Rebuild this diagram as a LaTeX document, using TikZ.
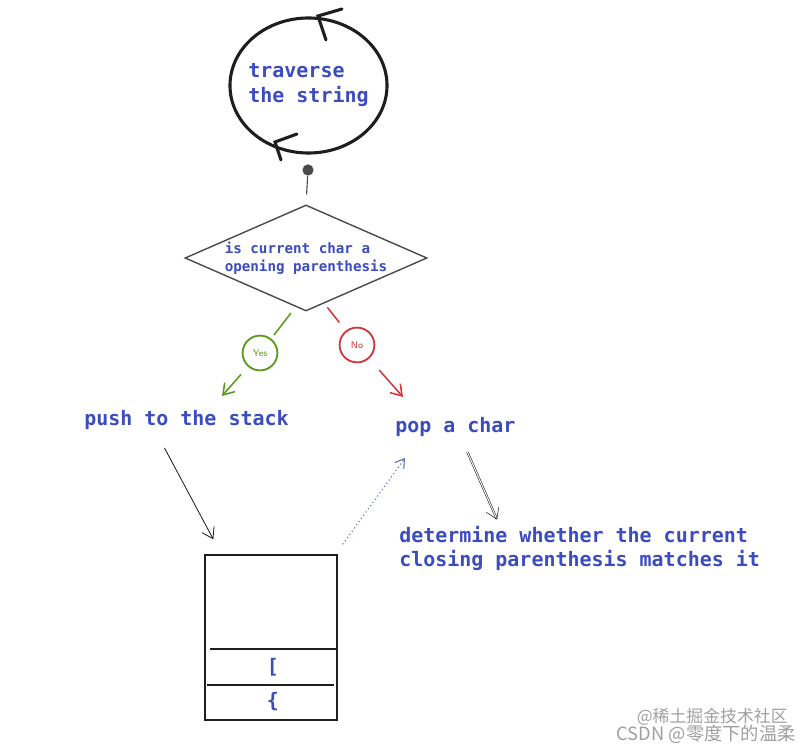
\documentclass[tikz,border=0pt]{standalone}
\usepackage{fontspec}
\setmonofont{DejaVu Sans Mono}
\newfontfamily\cjkfont{Noto Sans CJK SC}
\usetikzlibrary{positioning,arrows.meta,shapes.geometric,calc}
\definecolor{tinta}{HTML}{3A4CBE}
\definecolor{trazo}{HTML}{1E1E1E}
\definecolor{gris}{HTML}{4A4A4A}
\definecolor{verde}{HTML}{5B9A1C}
\definecolor{rojo}{HTML}{D0383A}
\newcommand\grande{\fontsize{14.2}{17.7}\selectfont}
\newcommand\chico{\fontsize{10.1}{12.8}\selectfont}
\tikzset{
  texto/.style={font=\ttfamily\bfseries\grande,text=tinta,align=left,inner sep=0pt},
  bucle/.style={ellipse,draw=trazo,line width=2.2pt,minimum width=3.925cm,minimum height=3.375cm,
    inner xsep=-3.6pt,inner ysep=0pt,font=\ttfamily\bfseries\grande,text=tinta,align=left},
  rombo/.style={diamond,draw=gris,line width=1pt,aspect=2.28,minimum width=6.05cm,minimum height=2.65cm,
    inner sep=0pt,font=\ttfamily\bfseries\chico,text=tinta,align=left},
  marca/.style={circle,draw=#1,line width=1.3pt,minimum size=0.87cm,inner sep=0pt,
    text=#1,font=\sffamily\fontsize{6.8}{7}\selectfont},
  punto/.style={circle,fill=gris,inner sep=0pt,minimum size=0.28cm},
  pila/.style={draw=trazo,line width=0.9pt,minimum width=3.3cm,minimum height=4.125cm,inner sep=0pt},
  flecha/.style={-{Straight Barb[length=2.6mm,width=3.4mm]},semithick,color=trazo},
  flechap/.style={-{Straight Barb[length=2.2mm,width=2.8mm]},dotted,thick,color=tinta!80},
  marcaagua/.style={font=\cjkfont\fontsize{12}{14}\selectfont,text=gray!75,inner sep=0pt},
}
\begin{document}
\begin{tikzpicture}[x=0.025cm,y=-0.025cm]
  \useasboundingbox (0,0) rectangle (810,747);
  % loop
  \node[bucle] (loop) at (308.5,85.5) {traverse\\the string};
  \draw[trazo,line width=2.2pt,line cap=round] (342,9) -- (318,16) -- (326,40);
  \draw[trazo,line width=2.2pt,line cap=round] (297,134) -- (275,142) -- (281,160);
  \node[punto] (dot) at (308,170) {};
  % decision
  \node[rombo] (cond) at (306,258) {is current char a\\opening parenthesis};
  \draw[gris,thick,shorten >=0.25cm] (dot) -- (cond.north);
  \node[marca=verde] (yes) at (260,353) {Yes};
  \node[marca=rojo] (no) at (357,345) {No};
  % actions
  \node[texto,anchor=west] (push) at (84,420) {push to the stack};
  \node[texto,anchor=west] (pop) at (395,427) {pop a char};
  \node[texto,anchor=west] (match) at (399,548.5) {determine whether the current\\closing parenthesis matches it};
  % stack
  \node[pila] (stack) at (271,637.5) {};
  \draw[trazo,line width=0.9pt] (210,649) -- (337,649);
  \draw[trazo,line width=0.9pt] (207,685) -- (334,685);
  \node[texto] (sq) at (273,667) {[};
  \node[texto] (cu) at (273,702) {\{};
  % connectors
  \coordinate (yestip) at (222,396);
  \coordinate (notip) at (403,397);
  \draw[verde,line width=1.1pt,shorten <=0.19cm,shorten >=0.11cm] (cond.-102) -- (yes);
  \draw[flecha,verde,line width=1.1pt,shorten <=0.26cm] (yes) -- (yestip);
  \draw[rojo,line width=1.1pt,shorten <=0.12cm,shorten >=0.26cm] (cond.-68) -- (no);
  \draw[flecha,rojo,line width=1.1pt,shorten <=0.38cm] (no) -- (notip);
  \draw[flecha] ($(push.south)+(-22,18)$) -- ($(stack.north west)+(9,-15)$);
  \draw[flecha,double,double distance=0.7pt,thin] ($(pop.south)+(12,15)$) -- ($(match.north west)+(98,-6)$);
  \draw[flechap] ($(stack.north east)+(5,-10)$) -- ($(pop.south west)+(10,21)$);
  % watermark
  \node[marcaagua,anchor=east] (wm1) at (788,717) {@稀土掘金技术社区};
  \node[marcaagua,anchor=east,font=\cjkfont\fontsize{13}{15}\selectfont] (wm2) at (796,734) {CSDN @零度下的温柔};
\end{tikzpicture}
\end{document}
